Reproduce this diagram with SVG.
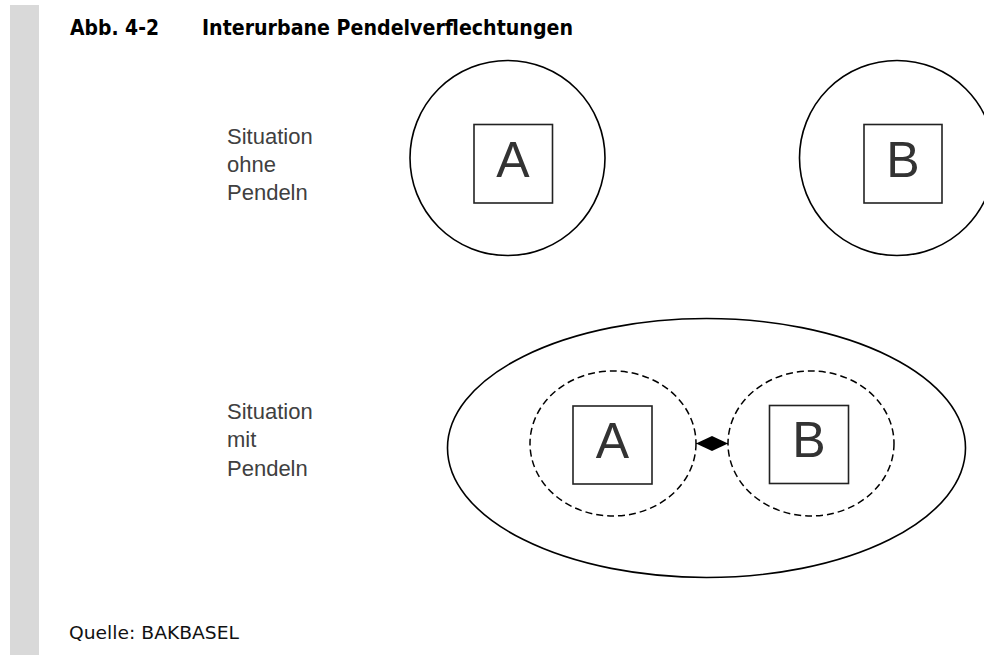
<svg xmlns="http://www.w3.org/2000/svg" width="984" height="655" viewBox="0 0 984 655">
  <style>
    .bar { fill: #d9d9d9; }
    .title { font-family: "DejaVu Sans", Verdana, sans-serif; font-weight: bold; font-size: 21.5px; fill: #000; }
    .src { font-family: "DejaVu Sans", Verdana, sans-serif; font-size: 17.5px; fill: #111; }
    .lbl { font-family: "Liberation Sans", Arial, sans-serif; font-size: 22px; fill: #404040; }
    .big { font-family: "Liberation Sans", Arial, sans-serif; font-size: 50px; fill: #333; text-anchor: middle; }
    .solid { fill: none; stroke: #000; stroke-width: 1.6; }
    .box { fill: none; stroke: #222; stroke-width: 1.6; }
    .dash { fill: none; stroke: #000; stroke-width: 1.5; stroke-dasharray: 7 4; }
    .conn { stroke: #000; stroke-width: 1; }
  </style>
  <defs>
    <marker id="head" markerUnits="userSpaceOnUse" markerWidth="17" markerHeight="16" refX="16" refY="7.5" orient="auto-start-reverse" viewBox="0 0 17 16">
      <path d="M16,7.5 L0,0 L0,15 Z" fill="#000"/>
    </marker>
  </defs>
  <rect class="bar" x="10" y="5" width="29" height="650"/>
  <text class="title" x="70" y="35" textLength="89" lengthAdjust="spacingAndGlyphs">Abb. 4-2</text>
  <text class="title" x="202" y="35" textLength="371" lengthAdjust="spacingAndGlyphs">Interurbane Pendelverflechtungen</text>

  <g id="label-ohne">
    <text class="lbl" x="227" y="143.5">Situation</text>
    <text class="lbl" x="227" y="171.5">ohne</text>
    <text class="lbl" x="227" y="200">Pendeln</text>
  </g>
  <g id="region-A-ohne">
    <circle class="solid" cx="507.5" cy="158" r="97.5"/>
  </g>
  <g id="city-A-ohne">
    <rect class="box" x="474" y="124.5" width="78.5" height="78.5"/>
    <text class="big" x="513" y="176.5">A</text>
  </g>
  <g id="region-B-ohne">
    <circle class="solid" cx="897" cy="158" r="97.5"/>
  </g>
  <g id="city-B-ohne">
    <rect class="box" x="864" y="124.5" width="78" height="78.5"/>
    <text class="big" x="903" y="176.5">B</text>
  </g>

  <g id="label-mit">
    <text class="lbl" x="227" y="418.5">Situation</text>
    <text class="lbl" x="227" y="447">mit</text>
    <text class="lbl" x="227" y="475.5">Pendeln</text>
  </g>
  <g id="region-AB-mit">
    <ellipse class="solid" cx="706.5" cy="448" rx="259" ry="129.5"/>
  </g>
  <g id="region-A-mit">
    <ellipse class="dash" cx="613" cy="443.5" rx="83" ry="72.5"/>
  </g>
  <g id="city-A-mit">
    <rect class="box" x="573" y="406" width="79" height="78"/>
    <text class="big" x="612.5" y="458">A</text>
  </g>
  <g id="region-B-mit">
    <ellipse class="dash" cx="811" cy="443.5" rx="83" ry="72.5"/>
  </g>
  <g id="city-B-mit">
    <rect class="box" x="769.5" y="405.5" width="79" height="78"/>
    <text class="big" x="809" y="456.5">B</text>
  </g>

  <g id="connectors">
    <line class="conn" x1="696" y1="443.5" x2="728" y2="443.5" marker-start="url(#head)" marker-end="url(#head)"/>
  </g>

  <text class="src" x="69" y="639" textLength="170" lengthAdjust="spacingAndGlyphs">Quelle: BAKBASEL</text>
</svg>
